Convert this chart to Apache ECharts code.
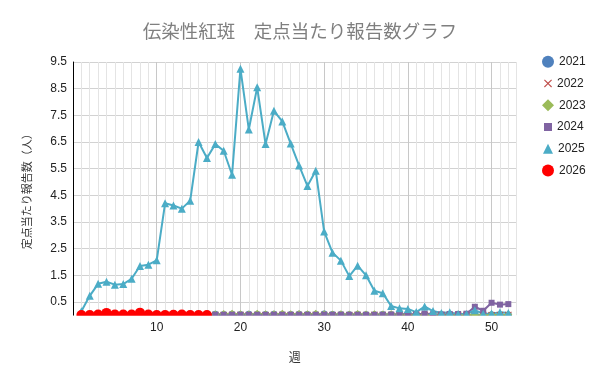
<!DOCTYPE html>
<html><head><meta charset="utf-8">
<script src="https://cdn.jsdelivr.net/npm/echarts@6/dist/echarts.min.js"></script>
<style>html,body{margin:0;padding:0;background:#fff}#c{width:600px;height:384px}</style>
</head><body><div id="c"></div>
<script>
const seriesNames = ['2021','2022','2023','2024','2025','2026'];
const v2021 = [0.03,0.03,0.04,0.04,0.03,0.04,0.03,0.04,0.05,0.04,0.04,0.03,0.04,0.05,0.04,0.03,0.04,0.03,0.04,0.03,0.04,0.03,0.03,0.04,0.03,0.03,0.04,0.03,0.03,0.05,0.03,0.03,0.02,0.03,0.02,0.02,0.03,0.02,0.03,0.02,0.02,0.02,0.01,0.02,0.02,0.01,0.02,0.01,0.01,0.02,0.01,0.01];
const v2022 = [0.01,0.01,0.00,0.01,0.00,0.01,0.01,0.00,0.01,0.00,0.01,0.01,0.00,0.01,0.01,0.00,0.01,0.00,0.01,0.01,0.00,0.01,0.00,0.01,0.01,0.00,0.01,0.00,0.01,0.01,0.00,0.01,0.00,0.01,0.00,0.01,0.01,0.00,0.01,0.00,0.01,0.01,0.00,0.01,0.00,0.01,0.01,0.00,0.01,0.00,0.01,0.01];
const v2023 = [0.02,0.03,0.02,0.03,0.04,0.03,0.02,0.03,0.04,0.03,0.02,0.03,0.04,0.03,0.03,0.04,0.03,0.05,0.06,0.04,0.03,0.06,0.04,0.04,0.06,0.04,0.05,0.04,0.06,0.04,0.03,0.04,0.03,0.05,0.03,0.04,0.03,0.04,0.03,0.03,0.02,0.03,0.02,0.03,0.02,0.03,0.02,0.02,0.02,0.02,0.02,0.02];
const v2024 = [0.02,0.02,0.02,0.03,0.02,0.02,0.02,0.03,0.02,0.02,0.02,0.02,0.03,0.02,0.02,0.02,0.02,0.02,0.02,0.02,0.02,0.02,0.02,0.02,0.02,0.02,0.02,0.02,0.02,0.02,0.02,0.02,0.02,0.02,0.02,0.02,0.02,0.03,0.03,0.05,0.03,0.07,0.04,0.03,0.05,0.05,0.06,0.32,0.17,0.47,0.40,0.42];
const v2025 = [0.15,0.73,1.18,1.26,1.15,1.17,1.37,1.85,1.90,2.06,4.20,4.12,4.00,4.30,6.50,5.90,6.42,6.17,5.27,9.25,6.97,8.55,6.42,7.67,7.27,6.44,5.62,4.85,5.42,3.14,2.35,2.05,1.47,1.86,1.50,0.92,0.83,0.35,0.26,0.24,0.12,0.33,0.16,0.09,0.11,0.05,0.05,0.19,0.06,0.07,0.11,0.09];
const v2026 = [0.01,0.01,0.03,0.09,0.03,0.03,0.03,0.10,0.03,0.01,0.01,0.02,0.03,0.01,0.01,0.01];
const seriesValues = [v2021, v2022, v2023, v2024, v2025, v2026];
const xMajorTicks = [10,20,30,40,50];
const yTickLabels = ['0.5','1.5','2.5','3.5','4.5','5.5','6.5','7.5','8.5','9.5'];

const colors = ['#4F81BD','#C0504D','#9BBB59','#8064A2','#4BACC6','#FF0000'];
const crossPath = 'path://M1 0 L5 4 L9 0 L10 1 L6 5 L10 9 L9 10 L5 6 L1 10 L0 9 L4 5 L0 1 Z';
const symbols = ['circle', crossPath, 'diamond', 'rect', 'triangle', 'circle'];
const symSizes = [7, 7, 8, 6, 8, 10];
const legSizes = [12, 8, 12, 8, 10, 12];
const legCenters = [61.7, 83.4, 105.2, 127, 148.8, 170.6];

const minorColors = ['#c8c8c8','#e4e4e4','#e4e4e4','#e4e4e4','#e4e4e4','#e4e4e4','#e4e4e4','#e4e4e4','#e4e4e4','#e4e4e4'];
const font = "'Liberation Sans','Noto Sans CJK JP',sans-serif";

const chart = echarts.init(document.getElementById('c'), null, {renderer: 'canvas'});
chart.setOption({
  animation: false,
  backgroundColor: '#fff',
  textStyle: {fontFamily: font},
  title: {
    text: '伝染性紅斑　定点当たり報告数グラフ',
    left: 'center', top: 17,
    textStyle: {fontSize: 18.5, fontWeight: 'normal', color: '#7f7f7f', fontFamily: "'Noto Sans CJK JP',sans-serif"}
  },
  legend: seriesNames.map((n, i) => ({
    data: [{name: n, icon: symbols[i]}],
    orient: 'vertical', left: 543 - legSizes[i] / 2, top: legCenters[i] - 11,
    itemWidth: legSizes[i], itemHeight: legSizes[i],
    selectedMode: false,
    textStyle: {fontSize: 12, color: '#222', fontFamily: font}
  })),
  grid: {left: 73, top: 62, right: 83.3, bottom: 68.7, containLabel: false},
  xAxis: {
    type: 'value', min: 0, max: 53, interval: 1,
    name: '週', nameLocation: 'middle', nameGap: 36,
    nameTextStyle: {fontSize: 12, color: '#333', fontFamily: "'Noto Sans CJK JP',sans-serif"},
    axisLine: {show: false}, axisTick: {show: false},
    axisLabel: {margin: 6, fontSize: 12, color: '#222',
      formatter: v => xMajorTicks.includes(v) ? String(v) : ''},
    splitLine: {show: true, lineStyle: {color: minorColors, width: 1}},
    z: 0
  },
  yAxis: {
    type: 'value', min: 0, max: 9.5, interval: 0.5,
    name: '定点当たり報告数（人）', nameLocation: 'middle', nameGap: 41, nameRotate: 90,
    nameTextStyle: {fontSize: 11, color: '#333', fontFamily: "'Noto Sans CJK JP',sans-serif"},
    axisLine: {show: true, lineStyle: {color: '#000', width: 1}},
    axisTick: {show: false},
    axisLabel: {margin: 6, fontSize: 12, color: '#222',
      formatter: v => { const s = v.toFixed(1); return yTickLabels.includes(s) ? s : ''; }},
    splitLine: {show: true, lineStyle: {color: ['rgba(0,0,0,0)', '#d2d2d2'], width: 1}},
    z: 0
  },
  graphic: [{
    type: 'rect', z: 5, silent: true,
    shape: {x: 60, y: 315.8, width: 470, height: 5.5},
    style: {fill: '#fff'}
  }],
  series: seriesNames.map((n, i) => ({
    name: n, type: 'line',
    data: seriesValues[i].map((v, k) => [k + 1, v]),
    symbol: symbols[i], symbolSize: symSizes[i], showSymbol: true,
    color: colors[i],
    itemStyle: {color: colors[i]},
    lineStyle: {color: colors[i], width: i === 5 ? 0 : 2},
    clip: false,
    z: 2
  }))
});
</script></body></html>
